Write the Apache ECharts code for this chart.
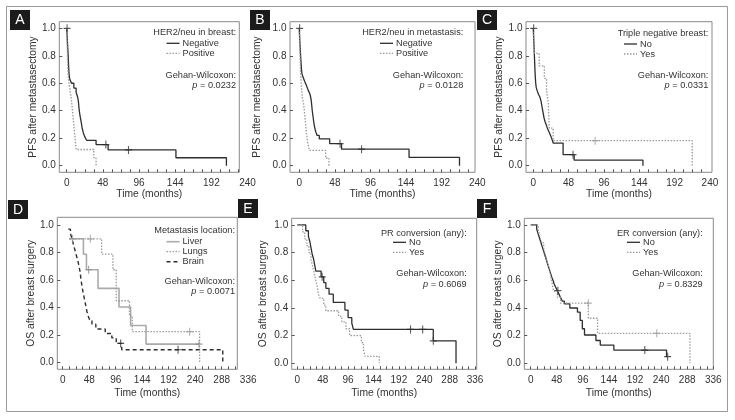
<!DOCTYPE html>
<html><head><meta charset="utf-8">
<script src="https://cdn.jsdelivr.net/npm/echarts@6/dist/echarts.min.js"></script>
<style>html,body{margin:0;padding:0;background:#fff}#c{width:735px;height:420px}</style>
</head><body><div id="c"></div>
<script>
// ---------- tick labels ----------
const xLabelsPFS = [0, 48, 96, 144, 192, 240];
const xLabelsOS = [0, 48, 96, 144, 192, 240, 288, 336];
const xMinorPFS = [0,12,24,36,48,60,72,84,96,108,120,132,144,156,168,180,192,204,216,228];
const xMinorOS = [0,12,24,36,48,60,72,84,96,108,120,132,144,156,168,180,192,204,216,228,240,252,264,276,288,300,312,324,336];
const yLabels = [0, 0.2, 0.4, 0.6, 0.8, 1.0];

// ---------- A: HER2/neu in breast (PFS) ----------
const A_negative = [[0,1],[0.4,0.96],[0.8,0.92],[1.2,0.88],[1.6,0.84],[2,0.8],[2.3,0.76],[2.6,0.72],[3,0.675],[4,0.63],[6.5,0.6],[9.5,0.565],[12.5,0.535],[14.5,0.5],[15.5,0.47],[16,0.44],[16.5,0.41],[17.5,0.37],[18.5,0.34],[19.5,0.31],[20.5,0.275],[22,0.24],[24,0.21],[26.5,0.185],[39,0.154],[55,0.115],[145,0.058],[212,0]];
const A_negativeCens = [[0.5,1.0],[52,0.154],[82,0.115]];
const A_positive = [[0,1],[0.3,0.941],[0.6,0.882],[0.9,0.824],[1.2,0.765],[1.5,0.706],[2,0.647],[3.5,0.588],[5,0.529],[6.5,0.471],[7.5,0.412],[8.5,0.353],[9.5,0.294],[10.5,0.235],[11.5,0.176],[12.5,0.118],[36,0.059],[39,0]];
const A_positiveCens = [];

// ---------- B: HER2/neu in metastasis (PFS) ----------
const B_negative = [[0,1],[0.4,0.95],[0.8,0.9],[1.2,0.86],[1.6,0.82],[2,0.78],[2.5,0.74],[3,0.7],[3.6,0.67],[5,0.645],[7.2,0.615],[9.5,0.585],[12,0.55],[14.5,0.52],[16,0.48],[16.8,0.44],[17.5,0.4],[18.5,0.36],[19.5,0.32],[20.5,0.285],[22,0.25],[24,0.22],[27,0.195],[41,0.16],[57,0.12],[148,0.06],[216,0]];
const B_negativeCens = [[0.5,1.0],[55,0.16],[84,0.12]];
const B_positive = [[0,1],[0.3,0.944],[0.6,0.889],[0.9,0.833],[1.2,0.778],[1.5,0.722],[1.8,0.667],[2.5,0.611],[3.2,0.556],[4,0.5],[6,0.444],[7,0.389],[8,0.333],[9,0.278],[10,0.222],[11.5,0.167],[13.5,0.111],[35.5,0.056],[40,0]];
const B_positiveCens = [];

// ---------- C: Triple negative breast (PFS) ----------
const C_no = [[0,1],[0.3,0.96],[0.6,0.92],[0.9,0.88],[1.2,0.84],[1.5,0.8],[1.8,0.76],[2.1,0.72],[2.4,0.68],[2.8,0.64],[3.3,0.6],[4,0.57],[5,0.55],[7,0.52],[9,0.5],[10.5,0.47],[11.5,0.44],[12.5,0.41],[13.5,0.38],[14.5,0.35],[16,0.32],[17.5,0.3],[19,0.275],[21,0.25],[23,0.225],[25,0.2],[27,0.165],[40.5,0.08],[55.5,0.04],[149,0]];
const C_noCens = [[0.5,1.0],[54,0.08]];
const C_yes = [[0,1],[0.8,0.909],[1.5,0.818],[8,0.727],[15,0.636],[18,0.545],[20.4,0.455],[21,0.364],[21.7,0.273],[27,0.182],[216,0]];
const C_yesCens = [[84,0.182]];

// ---------- D: Metastasis location (OS) ----------
const D_liver = [[12,0.9],[37.5,0.788],[43,0.675],[64,0.54],[102,0.405],[123,0.27],[151,0.135],[247,0.135]];
const D_liverCens = [[47,0.675],[247,0.135]];
const D_lungs = [[12,0.9],[70.5,0.788],[91,0.675],[97,0.45],[121,0.338],[126,0.225],[248,0]];
const D_lungsCens = [[18,0.9],[50,0.9],[230,0.225]];
const D_brain = [[10,0.97],[14,0.94],[16,0.91],[18,0.88],[20,0.85],[22,0.82],[24,0.79],[26,0.76],[28,0.73],[29.5,0.7],[31,0.67],[32,0.64],[33,0.61],[34,0.58],[35,0.55],[36.5,0.52],[38,0.49],[39.5,0.46],[41,0.43],[42.5,0.4],[44,0.37],[46,0.34],[49,0.31],[53,0.28],[60,0.245],[77,0.212],[89,0.18],[97,0.14],[107,0.094],[290,0]];
const D_brainCens = [[105,0.14],[209,0.094]];

// ---------- E: PR conversion (OS) ----------
const E_no = [[0,1],[16,0.958],[21,0.917],[24,0.875],[26,0.833],[28,0.792],[31,0.75],[33,0.708],[35,0.667],[45,0.625],[50,0.583],[54,0.542],[60,0.5],[68,0.44],[90,0.385],[96,0.33],[103,0.29],[106,0.245],[257,0.163],[300,0]];
const E_noCens = [[47,0.625],[214,0.245],[237,0.245],[257,0.163]];
const E_yes = [[0,1],[10,0.95],[14,0.9],[18,0.85],[22,0.8],[26,0.75],[29,0.7],[32,0.65],[35,0.6],[38,0.55],[40,0.5],[43,0.47],[50,0.42],[54,0.38],[78,0.34],[84,0.3],[92,0.25],[99,0.2],[121,0.15],[125,0.1],[128,0.05],[155,0]];
const E_yesCens = [];

// ---------- F: ER conversion (OS) ----------
const F_no = [[0,1],[11,0.97],[13,0.945],[15,0.92],[17,0.895],[19,0.87],[21,0.845],[23,0.82],[25,0.795],[27,0.77],[29,0.745],[31,0.72],[33,0.695],[35,0.67],[37,0.645],[39,0.62],[41,0.6],[43,0.575],[46,0.55],[49,0.525],[52,0.5],[55,0.475],[58,0.45],[62,0.43],[72,0.4],[86,0.37],[91,0.31],[95,0.25],[99,0.205],[120,0.165],[128,0.132],[153,0.096],[250,0.048],[252,0.048]];
const F_noCens = [[50,0.525],[210,0.096],[252,0.048]];
const F_yes = [[0,1],[14,0.957],[17,0.913],[20,0.87],[24,0.826],[27,0.783],[30,0.739],[33,0.696],[36,0.652],[38,0.609],[40,0.565],[42,0.522],[49,0.478],[55,0.435],[106,0.326],[123,0.217],[293,0]];
const F_yesCens = [[106,0.435],[232,0.217]];

// ---------- styles & layout ----------
const FONT = '"Liberation Sans", Arial, Helvetica, sans-serif';
const TXT = '#333';
const STY = {
  solid:  {color:'#2e2e2e', type:'solid', width:1.3, dash:null, mark:'#2e2e2e'},
  dotted: {color:'#9a9a9a', type:[1.5,1.5], width:1.3, dash:[1.5,1.5], mark:'#9a9a9a'},
  light:  {color:'#aaaaaa', type:'solid', width:1.6, dash:null, mark:'#888888'},
  dashed: {color:'#2e2e2e', type:[4,3], width:1.4, dash:[4,3], mark:'#2e2e2e'}
};
const PLUS = 'path://M3.4,0H4.6V3.4H8V4.6H4.6V8H3.4V4.6H0V3.4H3.4Z';

const panels = [
  {letter:'A', box:[10,10,20,20], frame:[59.3,21.7,239.3,172.3], xr:[-9.8,229.1], yr:[-0.048,1.048],
   labels:xLabelsPFS, minor:xMinorPFS, yName:'PFS after metastasectomy', yGap:21.5, xGap:16.5,
   title:'HER2/neu in breast:', tRight:236, tY:32.7, legLeft:166.5, legY:43.3, gwY:75, pY:85, p:'0.0232',
   curves:[{name:'Negative', data:A_negative, cens:A_negativeCens, st:'solid'},{name:'Positive', data:A_positive, cens:A_positiveCens, st:'dotted'}]},
  {letter:'B', box:[250,10,20,20], frame:[290,21.7,475,172.3], xr:[-12.5,236.9], yr:[-0.048,1.048],
   labels:xLabelsPFS, minor:xMinorPFS, yName:'PFS after metastasectomy', yGap:28, xGap:16.5,
   title:'HER2/neu in metastasis:', tRight:463.3, tY:32.7, legLeft:380, legY:43.3, gwY:75, pY:85, p:'0.0128',
   curves:[{name:'Negative', data:B_negative, cens:B_negativeCens, st:'solid'},{name:'Positive', data:B_positive, cens:B_positiveCens, st:'dotted'}]},
  {letter:'C', box:[477,10,20,20], frame:[526,21.7,712,172.3], xr:[-9.9,242.8], yr:[-0.048,1.048],
   labels:xLabelsPFS, minor:xMinorPFS, yName:'PFS after metastasectomy', yGap:21.6, xGap:17,
   title:'Triple negative breast:', tRight:708.3, tY:33.3, legLeft:624, legY:44, gwY:75, pY:85, p:'0.0331',
   curves:[{name:'No', data:C_no, cens:C_noCens, st:'solid'},{name:'Yes', data:C_yes, cens:C_yesCens, st:'dotted'}]},
  {letter:'D', box:[8,200,20,19], frame:[57.3,217.3,237.3,369.3], xr:[-9.8,316.3], yr:[-0.048,1.056],
   labels:xLabelsOS, minor:xMinorOS, yName:'OS after breast surgery', yGap:21.5, xGap:18.5,
   title:'Metastasis location:', tRight:235, tY:230.7, legLeft:166.5, legY:241.7, gwY:281.7, pY:291.7, p:'0.0071',
   curves:[{name:'Liver', data:D_liver, cens:D_liverCens, st:'light'},{name:'Lungs', data:D_lungs, cens:D_lungsCens, st:'dotted'},{name:'Brain', data:D_brain, cens:D_brainCens, st:'dashed'}]},
  {letter:'E', box:[238,199,20,19], frame:[291.7,218.3,476.7,369.3], xr:[-10.6,339.1], yr:[-0.043,1.048],
   labels:xLabelsOS, minor:xMinorOS, yName:'OS after breast surgery', yGap:23.3, xGap:18.5,
   title:'PR conversion (any):', tRight:466.7, tY:233.3, legLeft:393, legY:242.3, gwY:273.3, pY:284, p:'0.6069',
   curves:[{name:'No', data:E_no, cens:E_noCens, st:'solid'},{name:'Yes', data:E_yes, cens:E_yesCens, st:'dotted'}]},
  {letter:'F', box:[477,199,20,19], frame:[524.3,218.3,713.3,369.3], xr:[-11.8,336], yr:[-0.043,1.048],
   labels:xLabelsOS, minor:xMinorOS, yName:'OS after breast surgery', yGap:21, xGap:18.5,
   title:'ER conversion (any):', tRight:702.7, tY:233.3, legLeft:627, legY:242.3, gwY:273.3, pY:284, p:'0.8329',
   curves:[{name:'No', data:F_no, cens:F_noCens, st:'solid'},{name:'Yes', data:F_yes, cens:F_yesCens, st:'dotted'}]}
];

const grid = [], xAxis = [], yAxis = [], series = [], graphic = [];

graphic.push({type:'rect', z:1, shape:{x:6.5, y:6.5, width:721, height:405}, style:{fill:'none', stroke:'#9a9a9a', lineWidth:1}});

panels.forEach((P, i) => {
  const [l, t, r, b] = P.frame;
  const w = r - l, h = b - t;
  const pxPerX = w / (P.xr[1] - P.xr[0]);
  const lblMax = P.labels[P.labels.length - 1] + 20;
  const gi = 2 * i, gl = 2 * i + 1;
  grid.push({left:l, top:t, width:w, height:h, show:true, borderColor:'#8a8a8a', borderWidth:1, backgroundColor:'transparent', containLabel:false, outerBoundsMode:'none'});
  grid.push({left:l, top:t, width:(lblMax - P.xr[0]) * pxPerX, height:h, show:false, containLabel:false, outerBoundsMode:'none'});
  xAxis.push({gridIndex:gi, type:'value', min:P.xr[0], max:P.xr[1],
    axisLine:{show:false, onZero:false},
    axisTick:{show:true, inside:true, length:3, customValues:P.minor, lineStyle:{color:'#555', width:1}},
    axisLabel:{show:false}, splitLine:{show:false},
    name:'Time (months)', nameLocation:'middle', nameGap:P.xGap, nameMoveOverlap:false,
    nameTextStyle:{fontSize:10.3, fontFamily:FONT, color:TXT}});
  xAxis.push({gridIndex:gl, type:'value', min:P.xr[0], max:lblMax,
    axisLine:{show:false, onZero:false}, axisTick:{show:false}, splitLine:{show:false},
    axisLabel:{show:true, customValues:P.labels, margin:6, fontSize:10, fontFamily:FONT, color:TXT}});
  yAxis.push({gridIndex:gi, type:'value', min:P.yr[0], max:P.yr[1],
    axisLine:{show:false, onZero:false},
    axisTick:{show:true, inside:true, length:3, customValues:yLabels, lineStyle:{color:'#555', width:1}},
    axisLabel:{show:true, customValues:yLabels, margin:3.5, fontSize:10, fontFamily:FONT, color:TXT, formatter:v => v.toFixed(1)},
    splitLine:{show:false},
    name:P.yName, nameLocation:'middle', nameGap:P.yGap, nameRotate:90, nameMoveOverlap:false,
    nameTextStyle:{fontSize:10.3, fontFamily:FONT, color:TXT}});
  yAxis.push({gridIndex:gl, type:'value', min:0, max:1, show:false, axisLine:{onZero:false}});

  P.curves.forEach((c, k) => {
    const s = STY[c.st];
    series.push({type:'line', name:c.name, xAxisIndex:gi, yAxisIndex:gi, data:c.data, step:'end',
      symbol:'none', showSymbol:false, silent:true, animation:false, z:3,
      lineStyle:{color:s.color, type:s.type, width:s.width}, itemStyle:{color:s.color}});
    if (c.cens.length) {
      series.push({type:'scatter', name:c.name + ' censored ' + P.letter, xAxisIndex:gi, yAxisIndex:gi, data:c.cens,
        symbol:PLUS, symbolSize:[7,8], silent:true, animation:false, z:4,
        itemStyle:{color:s.mark}});
    }
    // legend entry: line sample + label
    const ly = P.legY + k * 10;
    graphic.push({type:'line', z:10, shape:{x1:P.legLeft, y1:ly, x2:P.legLeft + 13, y2:ly},
      style:{stroke:s.color, lineWidth:s.width, lineDash:s.dash}});
    graphic.push({type:'text', z:10, x:P.legLeft + 16, y:ly,
      style:{text:c.name, fontSize:9.2, fontFamily:FONT, fill:TXT, align:'left', verticalAlign:'middle'}});
  });

  graphic.push({type:'text', z:10, x:P.tRight, y:P.tY,
    style:{text:P.title, fontSize:9.2, fontFamily:FONT, fill:TXT, align:'right', verticalAlign:'middle'}});
  graphic.push({type:'text', z:10, x:P.tRight, y:P.gwY,
    style:{text:'Gehan-Wilcoxon:', fontSize:9.2, fontFamily:FONT, fill:TXT, align:'right', verticalAlign:'middle'}});
  graphic.push({type:'text', z:10, x:P.tRight, y:P.pY,
    style:{text:'{i|p} = ' + P.p, fontSize:9.2, fontFamily:FONT, fill:TXT, align:'right', verticalAlign:'middle',
      rich:{i:{fontStyle:'italic', fontSize:9.2, fontFamily:FONT, fill:TXT}}}});
  const [bx, by, bw, bh] = P.box;
  graphic.push({type:'group', z:20, x:bx, y:by, children:[
    {type:'rect', shape:{x:0, y:0, width:bw, height:bh}, style:{fill:'#1b1b1b'}},
    {type:'text', x:bw / 2, y:bh / 2 + 0.5, style:{text:P.letter, fontSize:14, fontFamily:FONT, fill:'#fff', align:'center', verticalAlign:'middle'}}
  ]});
});

const chart = echarts.init(document.getElementById('c'), null, {renderer:'canvas'});
chart.setOption({animation:false, backgroundColor:'#fff', grid, xAxis, yAxis, series, graphic});
</script>
</body></html>
